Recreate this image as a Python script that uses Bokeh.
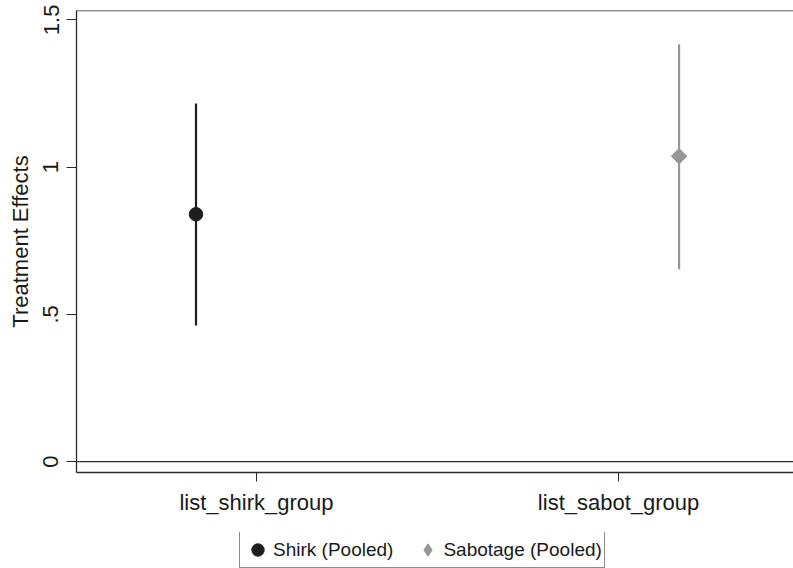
import numpy as np
from bokeh.plotting import figure
from bokeh.layouts import column
from bokeh.models import (Range1d, FixedTicker, Span, Legend, LegendItem,
                          ColumnDataSource)
from bokeh.embed import file_html
from bokeh.resources import INLINE

# ---- data ----
groups = ["list_shirk_group", "list_sabot_group"]
series = ["Shirk (Pooled)", "Sabotage (Pooled)"]
estimate = [0.840, 1.037]
ci_low = [0.462, 0.653]
ci_high = [1.216, 1.417]
y_ticks = [0, 0.5, 1, 1.5]
y_tick_labels = ["0", ".5", "1", "1.5"]

FONT = "Liberation Sans"
TXT = "#1a1a1a"
colors = ["#1e1e1e", "#969696"]
markers = ["circle", "square"]
legend_markers = ["circle", "diamond"]
sizes = [13.5, 11]
angles = [0, np.pi / 4]
offsets = [-0.167, 0.167]

p = figure(frame_width=717, frame_height=462, output_backend="svg", toolbar_location=None,
           x_range=Range1d(-0.497, 1.483), y_range=Range1d(-0.037, 1.532),
           min_border_left=76, min_border_right=0, min_border_top=10,
           min_border_bottom=60, background_fill_color="white",
           border_fill_color="white")
p.outline_line_color = None
p.grid.visible = False

idx = np.arange(len(groups))
xpos = idx + np.array(offsets)

sources = []
for i in range(len(series)):
    src = ColumnDataSource(dict(x=[xpos[i]], y=[estimate[i]], lo=[ci_low[i]], hi=[ci_high[i]]))
    sources.append(src)
    p.segment(x0="x", y0="lo", x1="x", y1="hi", source=src,
              line_color=colors[i], line_width=2.2)
    p.scatter(x="x", y="y", source=src, marker=markers[i], size=sizes[i],
              angle=angles[i], fill_color=colors[i], line_color=colors[i])

# frame lines
p.add_layout(Span(location=1.532, dimension="width", line_color="#2a2a2a", line_width=1.3))
p.add_layout(Span(location=0, dimension="width", line_color="#2a2a2a", line_width=1.3))

# axes
xa = p.xaxis[0]
xa.ticker = FixedTicker(ticks=list(idx))
xa.major_label_overrides = {int(i): g for i, g in zip(idx, groups)}
xa.major_tick_out = 9
xa.major_tick_in = 0
xa.minor_tick_out = 0
xa.minor_tick_line_color = None
xa.major_label_standoff = 8
xa.major_label_text_font = FONT
xa.major_label_text_font_size = "22px"
xa.major_label_text_color = TXT
xa.axis_line_color = "#2a2a2a"
xa.axis_line_width = 1.3
xa.major_tick_line_color = "#2a2a2a"

ya = p.yaxis[0]
ya.ticker = FixedTicker(ticks=y_ticks)
ya.major_label_overrides = {t: l for t, l in zip(y_ticks, y_tick_labels)}
ya.major_label_orientation = "vertical"
ya.major_tick_out = 10
ya.major_tick_in = 0
ya.minor_tick_line_color = None
ya.major_label_standoff = 8
ya.major_label_text_font = FONT
ya.major_label_text_font_size = "22px"
ya.major_label_text_color = TXT
ya.axis_label = "Treatment Effects"
ya.axis_label_text_font = FONT
ya.axis_label_text_font_size = "22px"
ya.axis_label_text_font_style = "normal"
ya.axis_label_text_color = TXT
ya.axis_label_standoff = 8
ya.axis_line_color = "#2a2a2a"
ya.axis_line_width = 1.3
ya.major_tick_line_color = "#2a2a2a"

# ---- legend strip (separate figure below the chart) ----
lf = figure(width=793, height=36, output_backend="svg", toolbar_location=None,
            x_range=Range1d(0, 1), y_range=Range1d(100, 101),
            x_axis_location=None, y_axis_location=None,
            min_border=0, background_fill_color="white", border_fill_color="white")
lf.outline_line_color = None
lf.grid.visible = False
leg_renderers = []
for i in range(len(series)):
    r = lf.scatter(x="x", y="y", source=sources[i], marker=legend_markers[i], size=sizes[i],
                   fill_color=colors[i], line_color=colors[i])
    leg_renderers.append(r)

legend = Legend(items=[LegendItem(label=s, renderers=[r]) for s, r in zip(series, leg_renderers)],
                orientation="horizontal", location=(163, 0))
legend.border_line_color = "#1a1a1a"
legend.border_line_width = 1.2
legend.padding = 2
legend.spacing = 19
legend.glyph_width = 31
legend.glyph_height = 31
legend.label_standoff = 0
legend.label_height = 20
legend.label_text_font = FONT
legend.label_text_font_size = "19px"
legend.label_text_color = TXT
legend.margin = 0
legend.background_fill_color = "white"
legend.background_fill_alpha = 1
lf.add_layout(legend, "center")

layout = column(p, lf, spacing=0)
open("out.html", "w").write(file_html(layout, INLINE))
